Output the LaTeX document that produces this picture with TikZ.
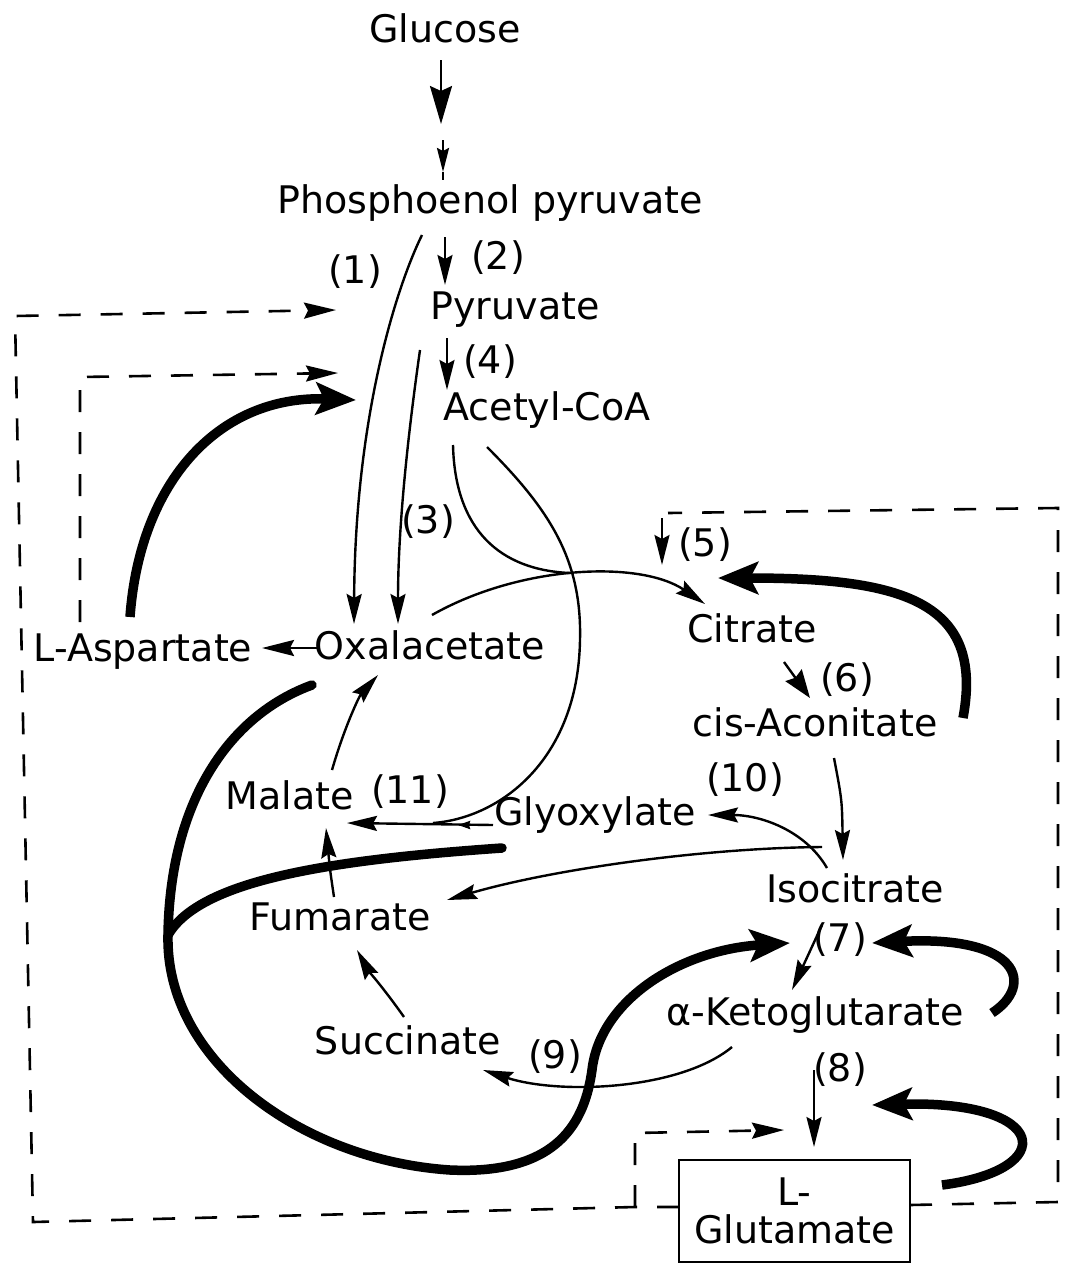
\documentclass[tikz,border=0pt]{standalone}
\usepackage{fontspec}
\setmainfont{DejaVu Sans}
\usetikzlibrary{arrows.meta}
\begin{document}
\begin{tikzpicture}[x=1pt,y=-1pt,
  lbl/.style={inner sep=0pt, font=\fontsize{38}{38}\selectfont},
  thin/.style={line width=2.4pt},
  tip/.style={-{Stealth[length=30pt,width=15pt,inset=4pt]}},
  bigtip/.style={-{Stealth[length=38pt,width=22pt,inset=5pt]}},
  fattip/.style={-{Stealth[length=28pt,width=20pt,inset=3pt]}},
  smalltip/.style={-{Stealth[length=12pt,width=8pt,inset=1pt]}},
  heavy/.style={line width=9.5pt, line cap=round},
  heavytip/.style={heavy, line cap=butt, -{Stealth[length=40pt,width=32pt,inset=8pt]}},
  dsh/.style={line width=2.6pt, dash pattern=on 22pt off 20pt},
  dshtip/.style={dsh, -{Stealth[length=32pt,width=16pt,inset=4pt]}},
]
\useasboundingbox (0,0) rectangle (1065,1264);

% ---------- metabolites ----------
\node[lbl] (glu)  at (445,28)   {Glucose};
\node[lbl] (pep)  at (490,203)  {Phosphoenol pyruvate};
\node[lbl] (pyr)  at (515,310)  {Pyruvate};
\node[lbl] (acoa) at (547,410)  {Acetyl-CoA};
\node[lbl] (oaa)  at (430,645)  {Oxalacetate};
\node[lbl] (asp)  at (143,652)  {L-Aspartate};
\node[lbl] (cit)  at (752,628)  {Citrate};
\node[lbl] (cis)  at (815,722)  {cis-Aconitate};
\node[lbl] (gly)  at (595,815)  {Glyoxylate};
\node[lbl] (mal)  at (290,795)  {Malate};
\node[lbl] (iso)  at (855,888)  {Isocitrate};
\node[lbl] (fum)  at (340,917)  {Fumarate};
\node[lbl] (akg)  at (815,1015) {α-Ketoglutarate};
\node[lbl] (suc)  at (408,1040) {Succinate};
\node[lbl, draw, line width=2pt, align=center, minimum width=231pt, minimum height=102pt]
      (glt) at (794.5,1211) {L-\\Glutamate};

% ---------- enzyme numbers ----------
\node[lbl] (n1)  at (355,272)  {(1)};
\node[lbl] (n2)  at (498,258)  {(2)};
\node[lbl] (n3)  at (428,522)  {(3)};
\node[lbl] (n4)  at (490,362)  {(4)};
\node[lbl] (n5)  at (705,545)  {(5)};
\node[lbl] (n6)  at (847,680)  {(6)};
\node[lbl] (n7)  at (840,940)  {(7)};
\node[lbl] (n8)  at (840,1070) {(8)};
\node[lbl] (n9)  at (555,1057) {(9)};
\node[lbl] (n10) at (745,780)  {(10)};
\node[lbl] (n11) at (410,792)  {(11)};

% ---------- coordinates ----------
\coordinate (g0) at (441,60);   \coordinate (g1) at (441,124);
\coordinate (g2) at (443,140);  \coordinate (g3) at (443,172);  \coordinate (g4) at (443,180);
\coordinate (p0) at (445,237);  \coordinate (p1) at (445,285);
\coordinate (q0) at (447,338);  \coordinate (q1) at (447,390);
\coordinate (e1a) at (422,235); \coordinate (e1b) at (354,624);
\coordinate (e3a) at (420,350); \coordinate (e3b) at (398,624);
\coordinate (ac1) at (453,445); \coordinate (ac2) at (487,447);
\coordinate (oc0) at (432,615); \coordinate (cin) at (705,604);
\coordinate (mj)  at (570,573);
\coordinate (gl0) at (493,825); \coordinate (ml1) at (347,823);
\coordinate (gm)  at (433,823);
\coordinate (sm0) at (476,825); \coordinate (sm1) at (458,825);
\coordinate (m0)  at (332,770); \coordinate (m1)  at (378,675);
\coordinate (f0)  at (334,897); \coordinate (f1)  at (326,828);
\coordinate (i0)  at (822,847); \coordinate (f2)  at (447,900);
\coordinate (i1)  at (827,868); \coordinate (gl1) at (708,815);
\coordinate (c0)  at (834,758); \coordinate (i2)  at (843,860);
\coordinate (c5)  at (784,662); \coordinate (c6)  at (810,698);
\coordinate (k5a) at (662,518); \coordinate (k5b) at (662,565);
\coordinate (i3)  at (822,925); \coordinate (k0)  at (792,990);
\coordinate (k1)  at (732,1047);\coordinate (s0)  at (483,1070);
\coordinate (s1)  at (404,1017);\coordinate (fu1) at (357,950);
\coordinate (k8a) at (814,1070);\coordinate (k8b) at (814,1147);
\coordinate (oa1) at (318,648); \coordinate (as1) at (262,648);

% ---------- thin reaction arrows ----------
\draw[thin, bigtip] (g0) -- (g1);
\draw[thin, -{Stealth[length=24pt,width=12pt,inset=3pt]}] (g2) -- (g3);
\draw[thin] (g3) -- (g4);
\draw[thin, tip] (p0) -- (p1);
\draw[thin, tip] (q0) -- (q1);
\draw[thin, tip] (e1a) .. controls (395,290) and (355,420) .. (e1b);
\draw[thin, tip] (e3a) .. controls (410,420) and (398,520) .. (e3b);
\draw[thin] (ac1) .. controls (455,530) and (500,570) .. (mj);
\draw[thin, tip] (oc0) .. controls (520,565) and (640,560) .. (cin);
\draw[thin] (ac2) .. controls (550,510) and (582,560) .. (580,640)
               .. controls (578,760) and (500,818) .. (gm);
\draw[thin, tip] (gl0) -- (ml1);
\draw[thin, smalltip] (sm0) -- (sm1);
\draw[thin, tip] (m0) .. controls (345,725) and (360,695) .. (m1);
\draw[thin, tip] (f0) .. controls (330,870) .. (f1);
\draw[thin, tip] (i0) .. controls (700,848) and (550,870) .. (f2);
\draw[thin, tip] (i1) .. controls (805,830) and (760,815) .. (gl1);
\draw[thin, tip] (c0) .. controls (842,800) .. (i2);
\draw[thin, fattip] (c5) -- (c6);
\draw[thin, tip] (k5a) -- (k5b);
\draw[thin, tip] (i3) -- (k0);
\draw[thin, tip] (k1) .. controls (680,1090) and (560,1095) .. (s0);
\draw[thin, tip] (s1) .. controls (385,990) and (368,970) .. (fu1);
\draw[thin, tip] (k8a) -- (k8b);
\draw[thin, -{Stealth[length=32pt,width=16pt,inset=4pt]}] (oa1) -- (as1);

% ---------- heavy (effector) arrows ----------
\coordinate (t1a) at (130,617);  \coordinate (t1b) at (356,400);
\draw[heavytip] (t1a) .. controls (140,480) and (220,395) .. (t1b);

\coordinate (ta) at (312,685);  \coordinate (tb) at (502,848);
\coordinate (tj) at (168,935);  \coordinate (t7) at (790,943);
\draw[heavy] (ta) .. controls (230,715) and (170,800) .. (tj);
\draw[heavy] (tb) .. controls (330,860) and (200,880) .. (tj);
\draw[heavytip] (tj) .. controls (165,1060) and (300,1160) .. (450,1170)
                     .. controls (560,1175) and (585,1120) .. (592,1070)
                     .. controls (600,1000) and (680,950) .. (t7);

\coordinate (t3a) at (963,718);  \coordinate (t3b) at (718,578);
\draw[heavytip] (t3a) .. controls (985,600) and (900,578) .. (t3b);

\coordinate (t4a) at (992,1013); \coordinate (t4b) at (872,943);
\draw[heavytip] (t4a) .. controls (1035,985) and (1020,935) .. (t4b);

\coordinate (t5a) at (942,1185); \coordinate (t5b) at (872,1105);
\draw[heavytip] (t5a) .. controls (1060,1170) and (1050,1100) .. (t5b);

% ---------- dashed feedback lines ----------
\coordinate (dl0) at (679,1207); \coordinate (dl1) at (635,1207);
\coordinate (dl2) at (33,1222);  \coordinate (dl3) at (15,316);
\coordinate (dl4) at (336,310);
\draw[dshtip] (dl0) -- (dl1) -- (dl2) -- (dl3) -- (dl4);
\coordinate (db1) at (635,1133); \coordinate (db2) at (784,1130);
\draw[dshtip] (dl1) -- (db1) -- (db2);
\coordinate (dr0) at (910,1205); \coordinate (dr1) at (1058,1202);
\coordinate (dr2) at (1058,508); \coordinate (dr3) at (668,513);
\draw[dsh] (dr0) -- (dr1) -- (dr2) -- (dr3);
\coordinate (da0) at (80,622); \coordinate (da1) at (80,377); \coordinate (da2) at (338,373);
\draw[dshtip] (da0) -- (da1) -- (da2);
\end{tikzpicture}
\end{document}
